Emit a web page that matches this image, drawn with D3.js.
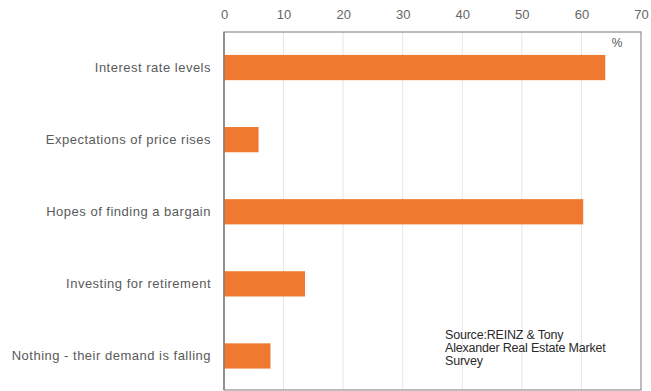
<!DOCTYPE html>
<html>
<head>
<meta charset="utf-8">
<script src="https://cdn.jsdelivr.net/npm/d3@7"></script>
<style>
  body { margin: 0; background: #fff; }
  text { font-family: Arial, "Liberation Sans", sans-serif; }
</style>
</head>
<body>
<svg width="651" height="391"></svg>
<script>
// data
var categories = ["Interest rate levels", "Expectations of price rises", "Hopes of finding a bargain",
                  "Investing for retirement", "Nothing - their demand is falling"];
var values = [64.0, 5.8, 60.3, 13.6, 7.8];
var tickValues = [0, 10, 20, 30, 40, 50, 60, 70];
var sourceLines = ["Source:REINZ & Tony", "Alexander Real Estate Market", "Survey"];

var svg = d3.select("svg");
var plotLeft = 224, plotRight = 641, plotTop = 32, plotBottom = 390;

var x = d3.scaleLinear().domain([0, 70]).range([plotLeft, plotRight]);
var y = d3.scaleBand().domain(categories).range([31.5, 392])
    .paddingInner(0.65).paddingOuter(0.325);

// gridlines
svg.append("g").selectAll("line")
    .data(tickValues.slice(1, -1))
    .enter().append("line")
    .attr("x1", d => x(d)).attr("x2", d => x(d))
    .attr("y1", plotTop).attr("y2", plotBottom)
    .attr("stroke", "#e6e6e6").attr("stroke-width", 1);

// plot box
svg.append("rect")
    .attr("x", plotLeft).attr("y", plotTop)
    .attr("width", plotRight - plotLeft).attr("height", plotBottom - plotTop)
    .attr("fill", "none").attr("stroke", "#8f8f8f").attr("stroke-width", 1.2);

// bars
svg.append("g").selectAll("rect")
    .data(values)
    .enter().append("rect")
    .attr("x", x(0))
    .attr("y", (d, i) => y(categories[i]))
    .attr("width", d => x(d) - x(0))
    .attr("height", y.bandwidth())
    .attr("fill", "#ef7a2f");

// left axis line
svg.append("line")
    .attr("x1", plotLeft).attr("x2", plotLeft).attr("y1", plotTop).attr("y2", plotBottom)
    .attr("stroke", "#7a7a7a").attr("stroke-width", 1.3);

// top tick labels
var xAxis = d3.axisTop(x).tickValues(tickValues).tickSize(0).tickPadding(0);
var gx = svg.append("g").attr("transform", "translate(0,19)").call(xAxis);
gx.select(".domain").remove();
gx.selectAll("text").attr("font-size", 13).attr("fill", "#666")
    .attr("font-family", "Arial, 'Liberation Sans', sans-serif");

// category labels
var yAxis = d3.axisLeft(y).tickSize(0).tickPadding(13);
var gy = svg.append("g").attr("transform", "translate(" + plotLeft + ",0)").call(yAxis);
gy.select(".domain").remove();
gy.selectAll("text").attr("font-size", 13).attr("fill", "#5a5a5a")
    .attr("letter-spacing", 0.5)
    .attr("font-family", "Arial, 'Liberation Sans', sans-serif");

// unit
svg.append("text").attr("x", 617).attr("y", 47)
    .attr("text-anchor", "middle").attr("font-size", 12).attr("fill", "#555")
    .text("%");

// source note
svg.append("g").selectAll("text")
    .data(sourceLines)
    .enter().append("text")
    .attr("x", 445).attr("y", (d, i) => 339 + i * 13)
    .attr("font-size", 12.5).attr("fill", "#2a2a2a")
    .attr("letter-spacing", -0.2)
    .text(d => d);
</script>
</body>
</html>
